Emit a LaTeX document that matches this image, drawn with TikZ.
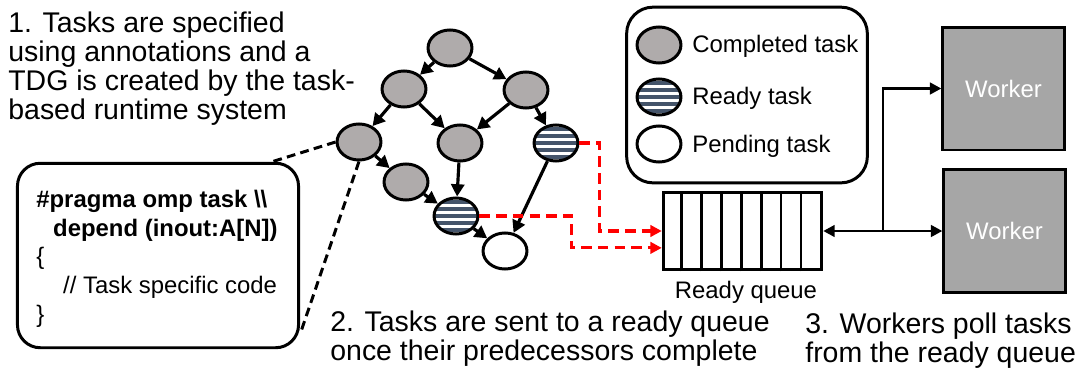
\documentclass[tikz,border=0pt]{standalone}
\usepackage{fontspec}
\setmainfont{Liberation Sans}
\usetikzlibrary{arrows.meta,positioning,shapes.geometric}
\definecolor{donegray}{HTML}{AFABAB}
\definecolor{stripeblue}{HTML}{44546A}
\definecolor{workergray}{HTML}{A6A6A6}

\begin{document}
\begin{tikzpicture}[x=0.02cm, y=-0.02cm,
    task/.style={ellipse, draw, line width=1.7pt, minimum width=25pt, minimum height=20.5pt, inner sep=0pt},
    done/.style={task, fill=donegray},
    pending/.style={task, fill=white},
    ready/.style={task, fill=white, path picture={
        \foreach \k in {-3,...,3} {
            \fill[stripeblue] ([yshift=\k*4pt-1.15pt]path picture bounding box.west) rectangle ([yshift=\k*4pt+1.15pt]path picture bounding box.east);
        }}},
    dep/.style={line width=1.8pt, -{Triangle[length=7pt,width=7.5pt]}},
    sendflow/.style={red, line width=1.8pt, dash pattern=on 6pt off 3.5pt, -{Triangle[length=6.5pt,width=6.5pt]}},
    callout/.style={line width=1.7pt, dash pattern=on 5pt off 3pt},
    bigtext/.style={font=\fontsize{16.2}{16.4}\selectfont, align=left, inner sep=0pt},
    smalltext/.style={font=\fontsize{13.6}{16.3}\selectfont, inner sep=0pt},
    worker/.style={draw, line width=1.7pt, fill=workergray, minimum width=69pt, minimum height=70pt, text=white, font=\fontsize{13.6}{16}\selectfont},
    poll/.style={line width=1.7pt, -{Triangle[length=6.5pt,width=6.5pt]}}
]
    \useasboundingbox (0,0) rectangle (1080,373);

    % Step 1 text
    \node[bigtext, anchor=base west] (step1) at (8,119) {1. Tasks are specified\\using annotations and a\\TDG is created by the task-\\based runtime system};

    % Code box
    \node[draw, line width=1.7pt, rounded corners=13pt, minimum width=160pt, minimum height=105pt] (code) at (158,255.5) {};
    \node[smalltext, anchor=base west, align=left] (codetext) at (36,322) {\textbf{\#pragma omp task \textbackslash\textbackslash}\\\hspace*{9.6pt}\textbf{depend (inout:A[N])}\\\{\\\hspace*{15.3pt}// Task specific code\\\}};

    % Task graph
    \node[done] (t1) at (450,48) {};
    \node[done] (t2) at (404,89) {};
    \node[done] (t3) at (526,90) {};
    \node[done] (t4) at (359,142) {};
    \node[done] (t5) at (460,143) {};
    \node[ready] (t6) at (556,143) {};
    \node[done] (t7) at (406,182) {};
    \node[ready] (t8) at (456,216) {};
    \node[pending] (t9) at (505,251) {};

    \draw[dep] (t1) -- (t2);
    \draw[dep] (t1) -- (t3);
    \draw[dep] (t2) -- (t4);
    \draw[dep] (t2) -- (t5);
    \draw[dep] (t3) -- (t5);
    \draw[dep] (t3) -- (t6);
    \draw[dep] (t4) -- (t7);
    \draw[dep] (t7) -- (t8);
    \draw[dep] (t5) -- (t8);
    \draw[dep] (t8) -- (t9);
    \draw[dep] (t6) -- (t9);

    % Callout lines to the code
    \draw[callout] (t4.west) -- ([xshift=-16pt]code.north east);
    \draw[callout] (t4.south) -- ([yshift=8.5pt]code.south east);

    % Legend
    \node[draw, line width=1.7pt, rounded corners=15pt, minimum width=137pt, minimum height=100pt] (legend) at (747,95) {};
    \node[done] (lgdone) at (659,45) {};
    \node[ready] (lgready) at (659,97) {};
    \node[pending] (lgpending) at (659,144) {};
    \node[smalltext, anchor=base west] (lgdonetext) at (692,52) {Completed task};
    \node[smalltext, anchor=base west] (lgreadytext) at (692,104) {Ready task};
    \node[smalltext, anchor=base west] (lgpendingtext) at (692,152) {Pending task};

    % Ready queue
    \node[draw, line width=1.7pt, fill=white, minimum width=90.2pt, minimum height=44.2pt] (queue) at (742.5,231) {};
    \foreach \i in {1,...,7} {
        \draw[line width=1.5pt] (queue.south west) ++(\i*19.9,0) -- ++(0,-78);
    }
    \node[smalltext, anchor=base] (queuelabel) at (746,298) {Ready queue};

    % Ready tasks sent to the queue
    \draw[sendflow] (t6.east) -- ++(20,0) |- (queue.west);
    \draw[sendflow] (t8.east) -- ++(92,0) |- ([yshift=-9.6pt]queue.west);

    % Workers
    \node[worker] (w1) at (1003.5,88.5) {Worker};
    \node[worker] (w2) at (1004.5,231) {Worker};
    \coordinate (split) at (883,231);
    \draw[line width=1.7pt, {Triangle[length=6.5pt,width=6.5pt]}-] (queue.east) -- (split);
    \draw[poll] (split) |- (w1.west);
    \draw[poll] (split) -- (w2.west);

    % Step 2 and 3 text
    \node[bigtext, font=\fontsize{16.2}{14.2}\selectfont, anchor=base west] (step2) at (330,360) {2. Tasks are sent to a ready queue\\once their predecessors complete};
    \node[bigtext, font=\fontsize{16.2}{15.1}\selectfont, anchor=base west] (step3) at (805,362) {3. Workers poll tasks\\from the ready queue};
\end{tikzpicture}
\end{document}
